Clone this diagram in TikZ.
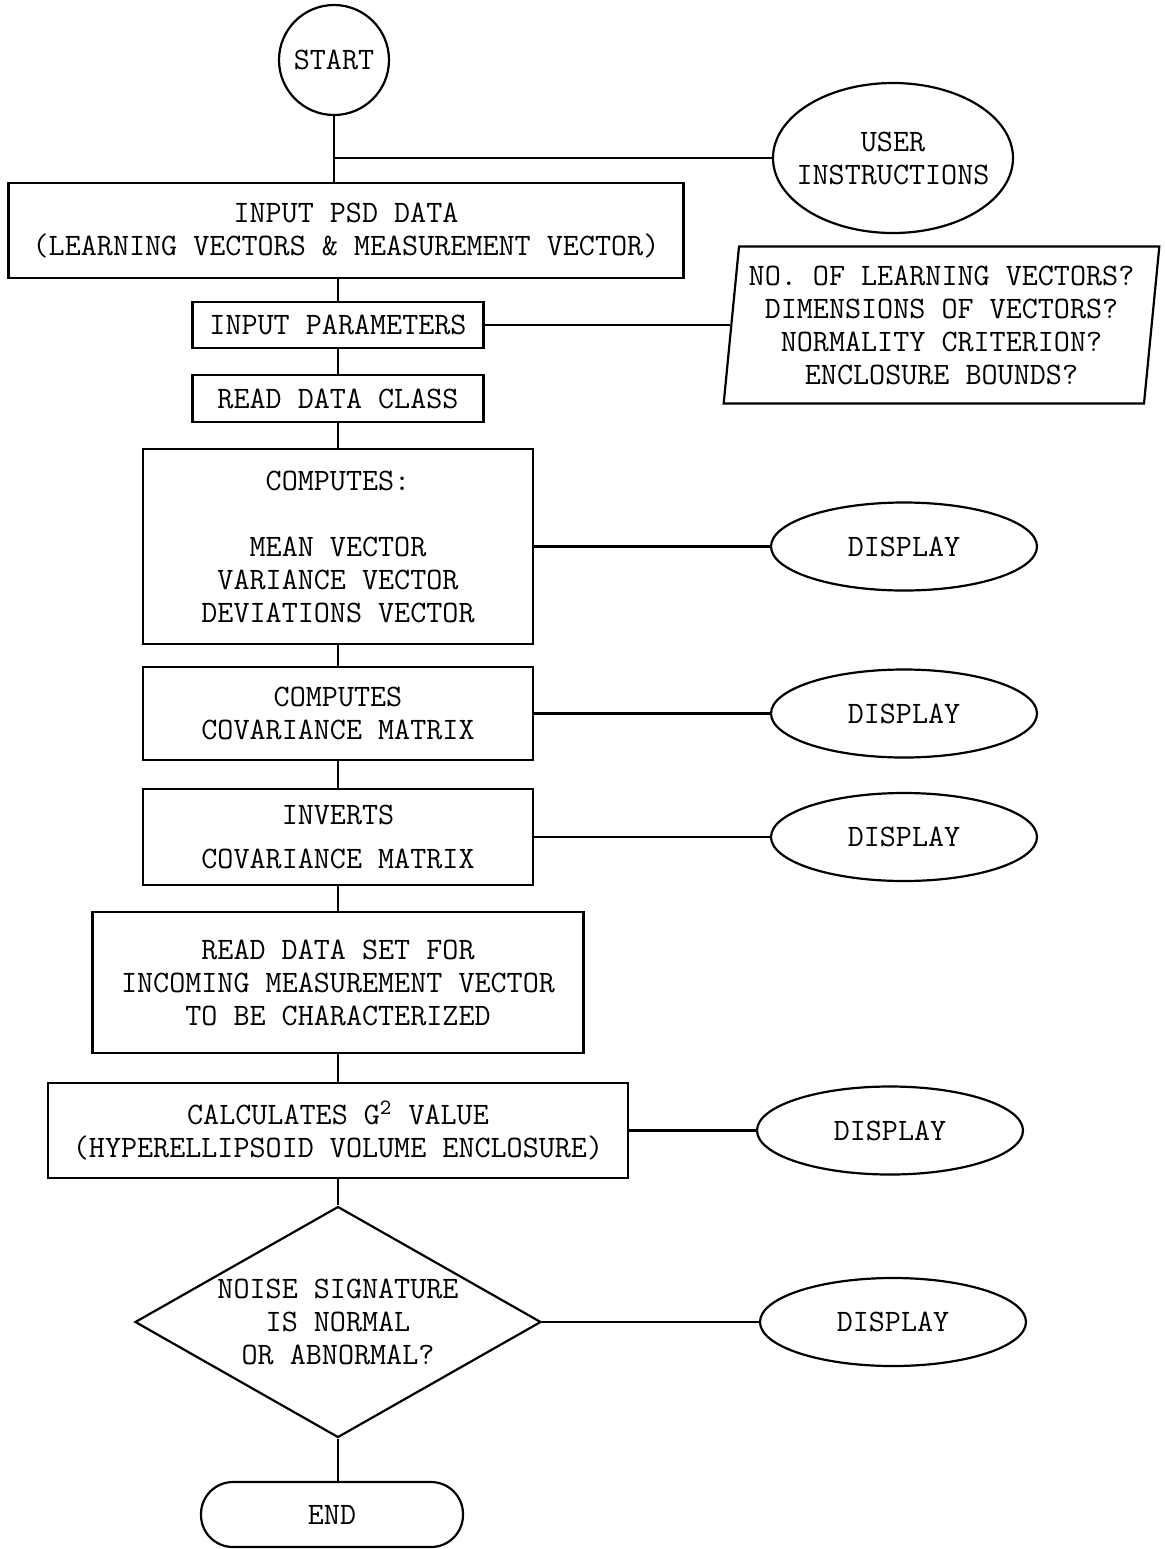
\documentclass[tikz,border=0pt]{standalone}
\usepackage{fontspec}
\usetikzlibrary{positioning,shapes.geometric}

\tikzstyle{typed} = [draw, align=center, inner sep=0pt, line width=1.1pt, font={\fontsize{15.6pt}{16.5pt}\selectfont\ttfamily}]
\tikzstyle{startCircle} = [typed, circle, minimum size=55pt]
\tikzstyle{procBox} = [typed, rectangle]
\tikzstyle{displayOval} = [typed, ellipse, minimum width=133pt, minimum height=44pt]
\tikzstyle{paramSlant} = [typed, trapezium, trapezium left angle=83, trapezium right angle=97, trapezium stretches=true, minimum width=218.5pt, minimum height=78.5pt]
\tikzstyle{choiceDiamond} = [typed, diamond, aspect=1.76, minimum width=203pt, minimum height=115.5pt]
\tikzstyle{endBox} = [typed, rectangle, rounded corners=16pt, minimum width=131pt, minimum height=32.5pt]

\begin{document}
\begin{tikzpicture}[x=0.5pt, y=-0.5pt, line width=1.1pt]
            \useasboundingbox (0,0) rectangle (1165,1549);
            % main column
            \node[startCircle] (start) at (334,60) {START};
            \node[procBox, below of=start, node distance=85.25pt, xshift=6pt, minimum width=337.5pt, minimum height=47.5pt] (psd) {INPUT PSD DATA\\(LEARNING VECTORS \& MEASUREMENT VECTOR)};
            \node[procBox, below of=psd, node distance=47.25pt, xshift=-4pt, minimum width=145.5pt, minimum height=23pt] (params) {INPUT PARAMETERS};
            \node[procBox, below of=params, node distance=36.75pt, minimum width=145.5pt, minimum height=23.5pt] (dclass) {READ DATA CLASS};
            \node[procBox, below of=dclass, node distance=74pt, minimum width=195pt, minimum height=97.5pt] (comp) {COMPUTES:\\[16.5pt]MEAN VECTOR\\VARIANCE VECTOR\\DEVIATIONS VECTOR};
            \node[procBox, below of=comp, node distance=83.5pt, minimum width=195pt, minimum height=46.5pt] (cov) {COMPUTES\\COVARIANCE MATRIX};
            \node[procBox, below of=cov, node distance=61.75pt, minimum width=195pt, minimum height=48pt] (inv) {INVERTS\\[5.5pt]COVARIANCE MATRIX};
            \node[procBox, below of=inv, node distance=72.75pt, minimum width=245.5pt, minimum height=70.5pt] (dset) {READ DATA SET FOR\\INCOMING MEASUREMENT VECTOR\\TO BE CHARACTERIZED};
            \node[procBox, below of=dset, node distance=74pt, minimum width=290pt, minimum height=47.5pt] (calc) {CALCULATES G\textsuperscript{2} VALUE\\(HYPERELLIPSOID VOLUME ENCLOSURE)};
            \node[choiceDiamond, below of=calc, node distance=95.75pt] (noise) {NOISE SIGNATURE\\IS NORMAL\\OR ABNORMAL?};
            \node[endBox, below of=noise, node distance=96.25pt, xshift=-3pt] (stop) {END};
            % side nodes
            \node[displayOval, right of=start, node distance=279.5pt, yshift=-49pt, minimum width=120pt, minimum height=75pt, inner xsep=-12pt] (user) {USER\\INSTRUCTIONS};
            \node[paramSlant, right of=params, node distance=301.75pt] (quest) {NO. OF LEARNING VECTORS?\\DIMENSIONS OF VECTORS?\\NORMALITY CRITERION?\\ENCLOSURE BOUNDS?};
            \node[displayOval, right of=comp, node distance=283pt] (disp1) {DISPLAY};
            \node[displayOval, right of=cov, node distance=283pt] (disp2) {DISPLAY};
            \node[displayOval, right of=inv, node distance=283pt] (disp3) {DISPLAY};
            \node[displayOval, right of=calc, node distance=276pt] (disp4) {DISPLAY};
            \node[displayOval, right of=noise, node distance=277.5pt] (disp5) {DISPLAY};
            % connectors
            \draw (start.south) -- (start.south |- psd.north);
            \draw (start.south |- user.west) -- (user.west);
            \draw (params.north |- psd.south) -- (params.north);
            \draw (params.east) -- (quest.left side);
            \draw (params) -- (dclass);
            \draw (dclass) -- (comp);
            \draw (comp) -- (cov);
            \draw (cov) -- (inv);
            \draw (inv) -- (dset);
            \draw (dset) -- (calc);
            \draw (calc) -- (noise);
            \draw (noise.south) -- (noise.south |- stop.north);
            \draw (comp) -- (disp1);
            \draw (cov) -- (disp2);
            \draw (inv) -- (disp3);
            \draw (calc) -- (disp4);
            \draw (noise) -- (disp5);
\end{tikzpicture}
\end{document}
